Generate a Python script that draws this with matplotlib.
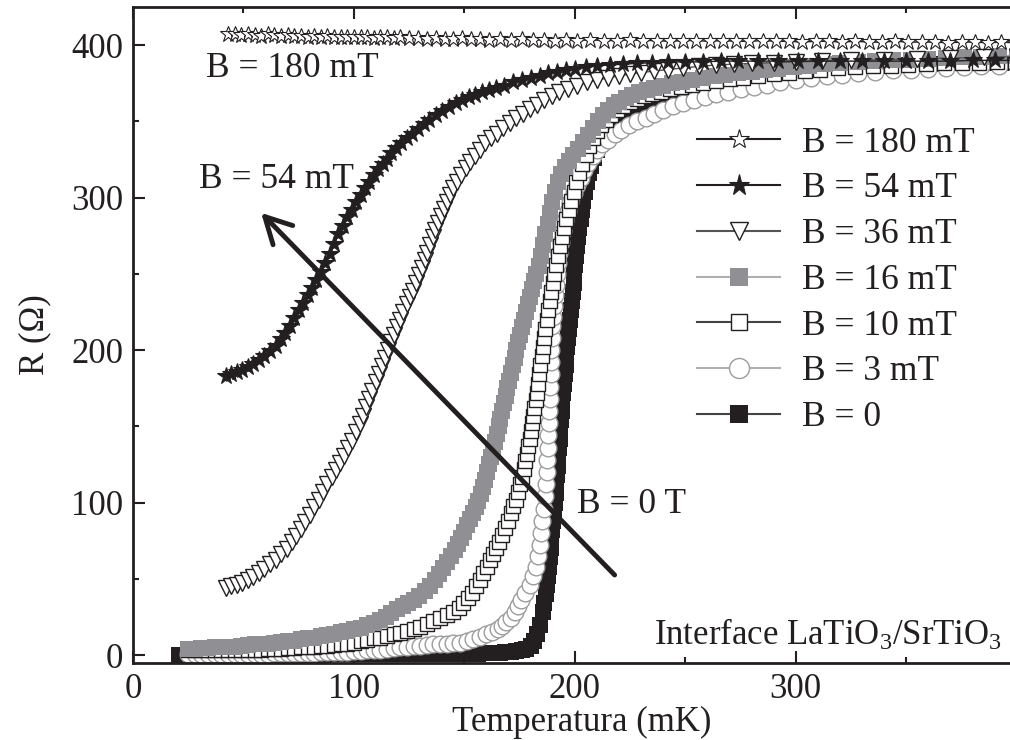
"""R(T) curves of the LaTiO3/SrTiO3 interface for several magnetic fields."""

import matplotlib

matplotlib.use("Agg")
import matplotlib.pyplot as plt
from matplotlib.lines import Line2D

INK = "#231f20"
GRAY = "#909094"
LIGHT = "#9c9c9c"

# (T [mK], R [Ohm])
B180 = [
    (43, 407), (46, 407), (49, 406.5), (52, 407), (55, 406.5), (58, 406), (61, 407), (64, 406.5), (67, 406), (70, 406.5),
    (73, 406), (76, 406), (79, 405.5), (82, 406), (85, 405.5), (88, 406), (91, 405.5), (94, 405), (97, 405.5), (100, 405),
    (103, 405.5), (106, 405), (109, 404.5), (112, 405), (115, 405), (118, 404.5), (121, 405), (125, 404.5), (129, 404.5), (133, 404),
    (137, 404.5), (141, 404), (145, 404), (149, 404.5), (153, 404), (157, 404), (161, 403.5), (166, 404), (171, 403.5), (176, 404),
    (181, 403.5), (186, 403.5), (191, 403), (196, 403.5), (201, 403), (207, 403.5), (213, 403), (219, 403), (225, 403.5), (231, 403),
    (237, 403), (243, 402.5), (249, 403), (255, 403), (261, 402.5), (267, 403), (273, 402.5), (279, 402.5), (285, 403), (291, 402.5),
    (297, 402.5), (303, 402), (309, 402.5), (315, 402.5), (321, 402), (327, 402.5), (333, 402), (339, 402), (345, 402.5), (351, 402),
    (357, 402), (363, 402), (369, 401.5), (375, 402), (381, 402), (387, 401.5), (393, 402), (399, 401.5), (405, 401.5),
]

B54 = [
    (42, 183), (44.5, 184), (47, 185.5), (49.5, 187), (52, 189), (54.5, 191), (57, 193.5), (59.5, 196), (62, 199.5), (64.5, 203),
    (67, 207), (69, 211.5), (71, 216), (73, 221), (75, 226), (77, 231), (79, 236), (81, 241), (83, 246), (85, 251.5),
    (87, 257), (89, 263), (91, 269.5), (93, 276), (95, 281.5), (97, 287), (99, 292), (101, 297), (103, 301.5), (105, 306),
    (107, 310.5), (109, 314.5), (111, 318.5), (113, 322), (115, 325.5), (117, 329), (119, 332.5), (121.5, 336), (124, 339), (126.5, 342),
    (129, 345), (131.5, 348), (134, 351), (137, 354), (140, 357), (143, 359.5), (146, 362), (149, 364), (152, 366), (155, 367.5),
    (158, 369), (161, 370.5), (164.5, 372), (168, 373.5), (172, 375.5), (176, 377), (180, 378.5), (184, 380), (188, 381.5), (192, 382.5),
    (196, 383.5), (200, 384.5), (205, 385.5), (210, 386.5), (216, 387), (222, 387.5), (228, 388), (235, 388.5), (242, 389), (250, 389),
    (258, 389), (266, 389.5), (274, 389.5), (283, 389.5), (292, 389.5), (301, 389.5), (310, 389.5), (320, 389.5), (330, 389.5), (340, 389.5),
    (350, 389.5), (360, 389.5), (370, 389.5), (380, 390), (390, 390), (400, 390), (408, 390),
]

B36 = [
    (42, 44), (44.5, 45), (47, 46), (49.5, 47.5), (52, 49), (54.5, 51), (57, 54), (59.5, 56.5), (62, 59.5), (64.5, 62.5),
    (67, 66), (69.5, 69.5), (72, 74), (74, 78), (76, 82.5), (78, 87), (80, 92), (82, 97), (84, 102), (86, 107),
    (88, 112), (90, 117), (92, 121.5), (93.8, 126), (95.6, 130.5), (97.4, 135.5), (99.2, 140.5), (101, 146), (102.6, 151.5), (104.1, 157),
    (105.6, 162.5), (107, 168), (108.4, 173.5), (109.8, 179), (111.2, 184), (112.6, 189.5), (114, 195), (115.4, 200), (116.8, 205), (118.2, 210),
    (119.6, 215), (121, 220), (122.4, 225), (123.8, 230), (125.2, 234.5), (126.6, 239), (128, 244), (129.4, 249), (130.7, 254), (132, 259),
    (133.2, 264), (134.4, 269), (135.6, 274), (136.8, 279), (138, 283.5), (139.3, 288), (140.6, 292.5), (142, 297), (143.5, 301.5), (145, 306),
    (146.7, 310.5), (148.5, 315), (150.5, 319.5), (152.5, 323.5), (154.7, 327.5), (157, 331.5), (159.5, 335.5), (162, 339), (164.6, 342), (167.5, 345.5),
    (170.5, 349), (173.5, 352), (176.5, 355), (179.6, 358), (182.8, 361), (186, 364), (189.5, 366.5), (193, 369), (197, 371.5), (201, 373.5),
    (205.5, 375.5), (210, 377), (215, 378.5), (220, 380), (225, 381), (230, 382), (236, 383), (242, 384), (249, 385), (256, 386),
    (264, 387), (272, 387.5), (280, 388), (290, 388.5), (300, 389), (312, 389.5), (325, 390), (340, 390.5), (355, 391), (370, 391.5),
    (385, 392), (400, 392.5),
]

B16 = [
    (25, 4), (28, 4), (31, 4.5), (34, 4.5), (37, 5), (40, 5), (43, 5.5), (46, 5.5), (49, 6), (52, 6.5),
    (55, 7), (58, 7), (61, 7.5), (64, 8), (67, 8.5), (70, 9), (73, 9.5), (76, 10.5), (79, 11), (82, 11.5),
    (85, 12.5), (88, 13), (91, 14), (94, 15), (97, 16), (100, 17), (103, 18), (106, 19.5), (109, 21), (112, 23),
    (114.5, 25), (117, 27.5), (119.5, 30), (122, 32), (124.5, 34), (127, 36), (129.5, 39), (132, 42), (134.5, 45.5), (136.5, 49),
    (138.5, 53), (140.5, 57), (142.3, 61), (144, 65), (145.6, 69), (147.1, 73), (148.5, 77), (149.9, 81), (151.3, 85), (152.6, 89),
    (153.9, 93), (155.1, 97), (156.3, 101), (157.4, 105.5), (158.4, 110), (159.4, 115), (160.3, 120), (161.2, 125), (162.1, 130), (163, 135),
    (163.9, 140), (164.7, 145), (165.5, 150), (166.3, 155), (167.1, 160), (167.9, 165), (168.7, 170), (169.5, 175), (170.3, 180), (171.1, 185),
    (171.9, 190), (172.7, 195), (173.5, 200), (174.3, 205), (175.1, 210), (175.9, 215), (176.8, 220), (177.7, 225), (178.6, 230), (179.5, 235),
    (180.5, 240), (181.5, 245), (182.6, 250), (183.7, 255), (184.7, 262), (185.7, 269), (186.7, 276), (187.7, 283), (188.7, 290), (189.8, 297),
    (191, 304), (192.3, 310), (193.8, 315.5), (195.5, 320), (197.3, 324), (199.3, 328), (201.5, 332), (203.8, 336.5), (206, 341), (208.2, 345.5),
    (210.4, 350), (212.6, 354), (215, 357.5), (217.5, 360.5), (220, 363), (223, 365.5), (226, 367.5), (229, 369), (232.5, 370.5), (236, 372),
    (240, 373.5), (244, 375), (248.5, 376), (253, 377), (258, 378.5), (263, 379.5), (268, 380.5), (274, 381.5), (280, 382.5), (286, 383.5),
    (292, 384.5), (299, 385.5), (306, 386.5), (313, 387.5), (320, 388), (328, 389), (336, 389.5), (344, 390), (352, 390.5), (360, 391),
    (368, 391.5), (376, 392), (384, 392.5), (392, 393), (400, 393), (408, 393.5),
]

B10 = [
    (25, 3), (28, 3), (31, 3), (34, 3), (37, 3), (40, 3), (43, 3), (46, 3.5), (49, 3.5), (52, 3.5),
    (55, 3.5), (58, 3.5), (61, 4), (64, 4), (67, 4), (70, 4.5), (73, 4.5), (76, 5), (79, 5), (82, 5.5),
    (85, 6), (88, 6), (91, 6.5), (94, 7), (97, 7.5), (100, 8), (103, 9), (106, 10), (109, 11), (112, 11.5),
    (115, 12.5), (118, 13.5), (121, 14.5), (124, 16), (127, 17), (130, 18.5), (133, 20.5), (136, 22.5), (139, 24), (142, 26),
    (145, 28.5), (147.5, 31), (149.5, 34), (151.5, 37.5), (153.5, 41), (155.3, 45), (157, 49), (158.6, 53.5), (160.1, 58), (161.5, 62.5),
    (162.9, 66.5), (164.3, 70), (165.8, 74), (167.2, 79), (168.5, 83.5), (169.8, 88), (171, 93), (172.1, 97.5), (173.2, 102), (174.2, 107),
    (175.1, 112), (176, 117), (176.8, 122), (177.5, 127), (178.2, 132), (178.9, 137), (179.5, 142), (180.1, 147), (180.7, 152), (181.2, 157),
    (181.7, 162), (182.2, 167), (182.7, 172), (183.2, 178), (183.7, 184), (184.3, 190), (184.9, 196), (185.5, 202), (186.1, 208), (186.7, 214),
    (187.3, 220), (187.9, 226), (188.6, 232), (189.3, 238), (190, 244), (190.7, 250), (191.5, 256), (192.3, 262), (193.2, 268), (194.1, 274),
    (195.1, 280), (196.1, 286), (197.2, 292), (198.3, 298), (199.5, 304), (200.7, 310), (202, 316), (203.4, 322), (204.9, 328), (206.5, 334),
    (208.2, 339), (210, 343.5), (212, 347.5), (214, 351), (216.5, 354.5), (219, 357.5), (222, 360), (225, 362.5), (228, 364.5), (231.5, 366.5),
    (235, 368), (239, 369.5), (243, 371), (248, 372.5), (253, 374), (258, 375), (264, 376.5), (270, 377.5), (276, 378.5), (283, 380),
    (290, 381), (297, 382), (304, 383), (311, 384), (319, 385), (327, 385.5), (335, 386), (343, 386.5), (351, 387), (359, 387.5),
    (367, 388), (375, 388), (383, 388.5), (391, 389), (399, 389), (407, 389.5),
]

B3 = [
    (25, 1), (28, 1), (31, 1), (34, 1), (37, 1), (40, 1), (43, 1), (46, 1), (49, 1), (52, 1),
    (55, 1), (58, 1), (61, 1), (64, 1.5), (67, 1.5), (70, 1.5), (73, 1.5), (76, 1.5), (79, 1.5), (82, 1.5),
    (85, 2), (88, 2), (91, 2), (94, 2), (97, 2), (100, 2.5), (103, 2.5), (106, 3), (109, 3), (112, 3.5),
    (115, 4), (118, 4.5), (121, 5), (124, 5.5), (127, 6), (130, 6), (133, 6.5), (136, 7), (139, 7), (142, 7.5),
    (145, 8), (148, 8), (151, 9), (154, 10.5), (157, 12), (160, 13.5), (162.5, 15), (165, 17), (167, 19), (169, 21.5),
    (171, 24.5), (172.7, 28), (174.2, 32), (175.5, 36), (177.5, 41), (179.5, 46), (181, 52), (182.2, 58), (183.2, 65), (184, 72),
    (184.7, 80), (185.3, 88), (185.9, 96), (186.4, 104), (186.8, 112), (187.2, 120), (187.5, 128), (187.8, 136), (188, 144), (188.2, 152),
    (188.4, 160), (188.6, 168), (188.8, 176), (189, 184), (189.2, 192), (189.4, 200), (189.6, 208), (189.8, 216), (190, 222), (190.4, 229),
    (190.8, 236), (191.3, 243), (191.8, 250), (192.4, 257), (193, 264), (193.8, 271), (194.7, 278), (195.7, 285), (196.8, 291), (198, 297),
    (199.5, 303), (201, 308), (202.6, 313), (204.3, 318), (206, 322.5), (208, 327), (210, 331), (212.5, 335), (215, 338), (218, 341.5),
    (221, 344.5), (224.5, 347.5), (228, 350), (232, 352.5), (236, 355), (240, 357.5), (244.5, 360), (249, 362), (254, 364), (259, 366),
    (264, 368), (269.5, 369.5), (275, 371), (281, 372.5), (287, 374), (293, 375.5), (300, 377), (307, 378.5), (314, 379.5), (321, 380.5),
    (328, 381.5), (336, 382.5), (344, 383.5), (352, 384), (360, 384.5), (368, 385), (376, 385.5), (384, 386), (392, 386), (400, 386.5),
    (408, 386.5),
]

B0 = [
    (21, 0), (23.5, 0), (26, 0), (28.5, 0), (31, 0), (33.5, 0), (36, 0), (38.5, 0), (41, 0), (43.5, 0),
    (46, 0), (48.5, 0), (51, 0), (53.5, 0), (56, 0), (58.5, 0), (61, 0), (63.5, 0), (66, 0), (68.5, 0),
    (71, 0), (73.5, 0), (76, 0), (78.5, 0.5), (81, 0), (83.5, 0.5), (86, 0), (88.5, 0.5), (91, 0.5), (93.5, 0.5),
    (96, 0.5), (98.5, 0.5), (101, 0.5), (103.5, 0.5), (106, 0.5), (108.5, 0.5), (111, 0.5), (113.5, 0.5), (116, 0.5), (118.5, 0.5),
    (121, 0.5), (123.5, 1), (126, 0.5), (128.5, 1), (131, 1), (133.5, 1), (136, 1), (138.5, 1), (141, 1), (143.5, 1),
    (146, 1), (148.5, 1), (151, 1), (153.5, 1), (156, 1), (158.5, 1.5), (161, 1.5), (163.5, 1.5), (166, 1.5), (168.5, 2),
    (171, 2), (173.5, 2.5), (176, 3), (178, 4), (180, 6), (181.5, 9), (183, 14), (184.3, 20), (185.5, 28), (186.2, 34),
    (186.8, 40), (187.3, 46), (187.8, 52), (188.2, 58), (188.6, 64), (189, 70), (189.4, 76), (189.8, 82), (190.2, 88), (190.6, 94),
    (191, 100), (191.3, 106), (191.6, 112), (191.9, 118), (192.2, 124), (192.5, 130), (192.8, 136), (193.1, 142), (193.4, 148), (193.7, 154),
    (194, 160), (194.3, 166), (194.6, 172), (195, 178), (195.4, 184), (195.8, 190), (196.2, 196), (196.6, 202), (197, 208), (197.4, 214),
    (197.8, 220), (198.2, 226), (198.6, 232), (199, 238), (199.4, 244), (199.8, 250), (200.2, 256), (200.6, 262), (201, 268), (201.5, 274),
    (202, 280), (202.6, 286), (203.2, 292), (203.9, 298), (204.6, 304), (205.4, 310), (206.3, 316), (207.3, 321), (208.5, 326), (210, 331),
    (211.5, 335), (213, 338.5), (215, 342), (217, 345), (219.5, 348), (222, 350.5), (225, 353.5), (228, 356), (231, 358.5), (234, 360.5),
    (237.5, 362.5), (241, 364.5), (245, 366.5), (249, 368), (253, 369.5), (258, 370.5), (263, 372), (268, 373), (273, 374.5), (278, 375.5),
    (283, 377), (288, 378), (294, 379.5), (300, 381), (306, 382), (312, 383.5), (318, 384.5), (324, 385.5), (330, 386), (337, 386.5),
    (344, 387), (351, 387), (358, 387.5), (365, 387.5), (372, 388), (379, 388), (386, 388.5), (393, 388.5), (400, 389), (407, 389),
]

LABELS = ["B = 180 mT", "B = 54 mT", "B = 36 mT", "B = 16 mT", "B = 10 mT", "B = 3 mT", "B = 0"]

# marker, size, face, edge, edge width, line colour (legend order)
STYLES = [
    ("*", 12, "white", INK, 0.8, INK),
    ("*", 13, INK, INK, 0.8, INK),
    ("v", 11, "white", INK, 1.0, "#555555"),
    ("s", 11, GRAY, GRAY, 0.0, "#b0b0b0"),
    ("s", 10, "white", INK, 1.0, "#444444"),
    ("o", 12, "white", LIGHT, 1.0, "#b0b0b0"),
    ("s", 11, INK, INK, 0.0, "#444444"),
]
SERIES = [B180, B54, B36, B16, B10, B3, B0]

plt.rcParams["font.family"] = ["Liberation Serif", "DejaVu Serif"]
plt.rcParams["mathtext.fontset"] = "custom"
plt.rcParams["mathtext.rm"] = "Liberation Serif"
plt.rcParams["mathtext.it"] = "Liberation Serif:italic"
plt.rcParams["text.color"] = INK
plt.rcParams["axes.labelcolor"] = INK
plt.rcParams["xtick.color"] = INK
plt.rcParams["ytick.color"] = INK

fig = plt.figure(figsize=(10.1, 7.4), dpi=100)
ax = fig.add_axes([133 / 1010, 77 / 740, 897 / 1010, 656 / 740])

# drawn from B = 0 upward so the low-field data sit on top, like the original
for pts, (mk, ms, fc, ec, mew, lc) in reversed(list(zip(SERIES, STYLES))):
    t = [p[0] for p in pts]
    r = [p[1] for p in pts]
    ax.plot(t, r, color=lc, lw=1.0, marker=mk, ms=ms, mfc=fc, mec=ec, mew=mew)

ax.set_xlim(0, 406)
ax.set_ylim(-5.2, 425)
ax.set_xticks([0, 100, 200, 300])
ax.set_xticks([50, 150, 250, 350], minor=True)
ax.set_yticks([0, 100, 200, 300, 400])
ax.set_yticks([50, 150, 250, 350], minor=True)
ax.tick_params(which="both", direction="in", top=True, right=False, width=1.5, labelsize=25, pad=7)
ax.tick_params(which="major", length=8.5)
ax.tick_params(which="minor", length=4.5)
for side in ("left", "bottom", "top", "right"):
    ax.spines[side].set_linewidth(2.0)
    ax.spines[side].set_color(INK)

ax.set_xlabel("Temperatura (mK)", fontsize=25, labelpad=0)
ax.set_ylabel("R (Ω)", fontsize=25, labelpad=14)

ax.text(33, 379, "B = 180 mT", fontsize=25.5, ha="left", va="baseline")
ax.text(30, 306, "B = 54 mT", fontsize=25.5, ha="left", va="baseline")
ax.text(201, 93, "B = 0 T", fontsize=25.5, ha="left", va="baseline")
ax.text(236, 6.6, r"Interface LaTiO$_3$/SrTiO$_3$", fontsize=25, ha="left", va="baseline")

ax.annotate(
    "",
    xy=(58, 290),
    xytext=(218, 52.5),
    arrowprops=dict(arrowstyle="->,head_length=0.85,head_width=0.45", lw=3.5, color=INK, mutation_scale=22,
                    shrinkA=0, shrinkB=0),
)

handles = []
for mk, ms, fc, ec, mew, lc in STYLES:
    handles.append(Line2D([], [], color=lc, lw=1.5, marker=mk, ms=ms * 1.2, mfc=fc, mec=ec, mew=mew))
ax.legend(
    handles,
    LABELS,
    loc="upper left",
    bbox_to_anchor=(0.629, 0.8175),
    frameon=False,
    fontsize=25.5,
    handlelength=2.35,
    handletextpad=0.6,
    labelspacing=0.36,
    borderaxespad=0,
    borderpad=0,
)

fig.savefig("out.png", dpi=100, facecolor="white")
